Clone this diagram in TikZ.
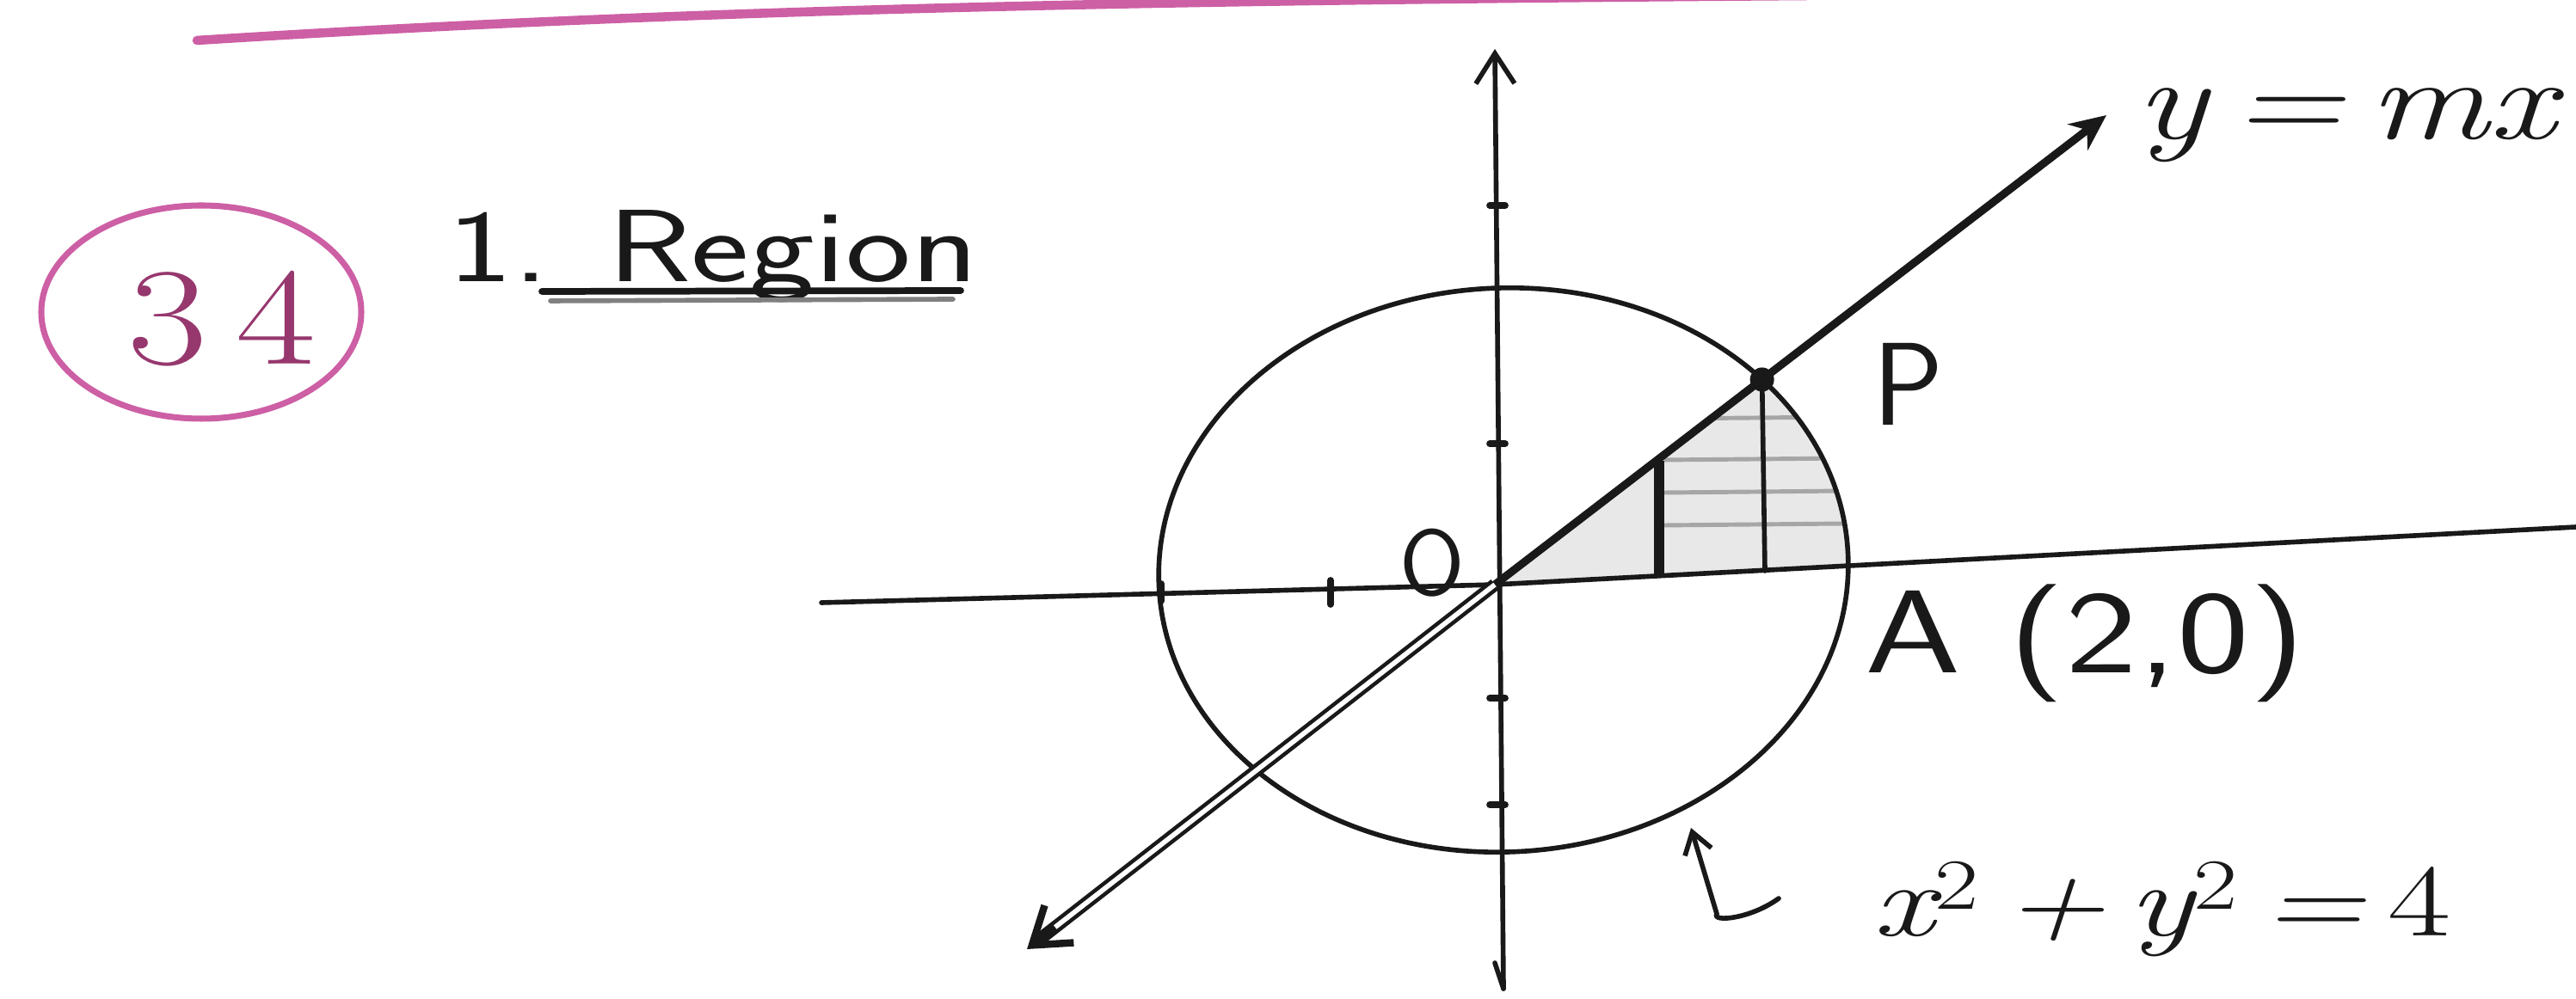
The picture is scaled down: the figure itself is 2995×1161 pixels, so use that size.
\documentclass[tikz,border=0pt]{standalone}
\usepackage{fontspec}
\usetikzlibrary{arrows.meta,intersections,calc}
\definecolor{pinkink}{RGB}{205,95,165}
\definecolor{pinkdark}{RGB}{150,55,110}
\definecolor{ink}{RGB}{25,25,25}
\tikzset{
  inkline/.style={draw=ink,line width=1.6pt,line cap=round},
  tickmark/.style={draw=ink,line width=2.2pt,line cap=round},
  hatch/.style={draw=gray!70,line width=1.4pt},
  lbl/.style={inner sep=0pt,text=ink},
}
\begin{document}
\begin{tikzpicture}[x=0.01cm,y=0.01cm]
\useasboundingbox (0,0) rectangle (2995,1161);
% top pink rule
\draw[pinkink,line width=3pt,line cap=round] (229,1114) .. controls (800,1150) and (1300,1160) .. (2100,1166);
% circled number
\draw[pinkink,line width=2pt] (234,798) ellipse [x radius=186, y radius=124];
\node[lbl,text=pinkdark,font=\fontsize{46}{50}\selectfont] (num) at (258,790) {\scalebox{1.25}[1]{3\,4}};
% heading
\node[lbl,anchor=base west,font=\fontsize{34}{40}\selectfont\sffamily] (head) at (520,833) {\scalebox{1.35}[1]{1. Region}};
\coordinate (u1) at (630,822); \coordinate (u2) at (1117,823);
\coordinate (u3) at (640,811); \coordinate (u4) at (1108,813);
\draw[inkline,line width=2.2pt] (u1) -- (u2);
\draw[inkline,line width=1.6pt,gray] (u3) -- (u4);
% axes
\coordinate (O) at (1738,481);
\coordinate (xl) at (955,460);
\coordinate (xr) at (2995,548);
\coordinate (yb) at (1748,11);
\coordinate (yt) at (1738,1104);
% shaded region
\path[name path=circ,rotate around={2.7:(1748,498)}] (1748,498) ellipse [x radius=401, y radius=328];
\coordinate (LL) at (1194,57);
\coordinate (UR) at (2449,1027);
\path[name path=ray] (O) -- (UR);
\path[name intersections={of=circ and ray,by=P}];
\begin{scope}
  \clip[rotate around={2.7:(1748,498)}] (1748,498) ellipse [x radius=401, y radius=328];
  \clip (O) -- (UR) -- (2995,1027) -- (xr) -- cycle;
  \fill[gray!18] (1700,400) rectangle (2300,900);
  \foreach \yy in {550,588,626,674} {\draw[hatch] (1935,\yy) -- (2250,\yy+3);}
\end{scope}
\coordinate (s1b) at (1929,491); \coordinate (s1t) at (1929,625);
\coordinate (s2b) at (2052,497);
\draw[ink,line width=3.2pt] (s1b) -- (s1t);
\draw[inkline] (P) -- (s2b);
% axes drawn
\draw[inkline] (xl) -- (O) -- (xr);
\draw[inkline,-{Straight Barb[length=0.35cm,width=0.45cm]}] (yb) -- (yt);
\draw[inkline] (yb) -- ++(-10,30);
% circle
\draw[inkline,rotate around={2.7:(1748,498)}] (1748,498) ellipse [x radius=401, y radius=328];
% line y = mx
\coordinate (LLa) at ($(LL)!0.06!(O)$);
\coordinate (LLb) at ($(LL)!0.02!(O)$);
\draw[ink,line width=2.6pt,-{Stealth[length=0.42cm,width=0.38cm]}] (O) -- (UR);
\draw[ink,line width=1.3pt,double=white,double distance=1.6pt] (O) -- (LLb);
\draw[ink,line width=2.4pt,-{Straight Barb[length=0.4cm,width=0.55cm]}] (LLa) -- (LL);
\fill[ink] (P) circle (14);
% ticks
\foreach \yy in {922,645,349,225} {\draw[tickmark] (1732,\yy) -- (1750,\yy);}
\draw[tickmark] (1547,458) -- (1547,486);
\draw[tickmark] (1350,462) -- (1350,482);
% labels
\node[lbl,font=\fontsize{31}{34}\selectfont\sffamily] (olbl) at (1665,506) {O};
\node[lbl,anchor=base west,font=\fontsize{39}{44}\selectfont\sffamily] (plbl) at (2177,666) {P};
\node[lbl,anchor=base west,font=\fontsize{38}{44}\selectfont\itshape] (ylbl) at (2483,999) {\scalebox{1.3}[1]{y\,=\,mx}};
\node[lbl,anchor=base west,font=\fontsize{39}{44}\selectfont\sffamily] (albl) at (2168,378) {\scalebox{1.3}[1]{A (2,0)}};
\node[lbl,anchor=base west,font=\fontsize{34}{40}\selectfont] (clbl) at (2177,72) {\scalebox{1.33}[1]{\itshape x\textsuperscript{\upshape 2}\,+\,y\textsuperscript{\upshape 2}\,=\,\upshape 4}};
% hook arrow pointing to circle
\coordinate (h1) at (2068,116);
\coordinate (h2) at (1996,98);
\coordinate (h3) at (1966,198);
\draw[inkline,-{Straight Barb[length=0.24cm,width=0.32cm]}] (h1) .. controls (2035,92) and (1990,88) .. (h2) -- (h3);
\end{tikzpicture}
\end{document}
